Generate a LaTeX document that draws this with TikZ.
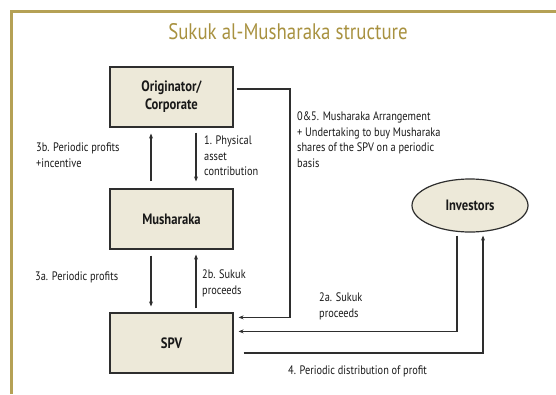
\documentclass[tikz,border=0pt]{standalone}
\usepackage{fontspec}
\setmainfont[FakeStretch=0.84]{PT Sans}
\usepackage{xcolor}
\usetikzlibrary{arrows.meta,shapes.geometric}
\definecolor{gold}{HTML}{B5A155}
\definecolor{titlegold}{HTML}{A8913F}
\definecolor{boxfill}{HTML}{EDE9D9}
\definecolor{ink}{HTML}{2E2E2E}

\begin{document}
\begin{tikzpicture}[x=1pt, y=-1pt,
  box/.style={draw=ink, line width=1.2pt, fill=boxfill, minimum width=123pt, minimum height=60pt, align=center, font=\fontsize{15}{18}\selectfont\bfseries, text=black!90},
  ellbox/.style={ellipse, draw=ink, line width=1.2pt, fill=boxfill, minimum width=116pt, minimum height=53pt, inner sep=0pt, font=\fontsize{15}{18}\selectfont\bfseries, text=black!90},
  lbl/.style={font=\fontsize{12.3}{15.5}\selectfont, align=left, inner sep=0pt, anchor=north west, text=black!90},
  arr/.style={-{Stealth[length=5pt, width=4pt]}, line width=1.1pt, draw=ink},
  ln/.style={line width=1.1pt, draw=ink}]
\useasboundingbox (0,0) rectangle (556,394);
% frame and title
\draw[gold, line width=3pt] (11.5,394) -- (11.5,11.5) -- (556,11.5);
\node[font=\fontsize{22.5}{26}\selectfont, text=titlegold] (title) at (288,32) {Sukuk al-Musharaka structure};
% parties
\node[box] (orig) at (171.5,97) {Originator/\\Corporate};
\node[box] (mush) at (171.5,219) {Musharaka};
\node[box] (spv) at (171.5,343) {SPV};
\node[ellbox] (inv) at (470,205.5) {Investors};
% originator <-> musharaka
\draw[arr] ([shift={(-20.5,-7)}]mush.north) -- ([shift={(-20.5,6)}]orig.south);
\draw[arr] ([shift={(24.5,5)}]orig.south) -- ([shift={(24.5,-7)}]mush.north);
\node[lbl] (l3b) at (36,143) {3b. Periodic profits\\+incentive};
\node[lbl] (l1) at (204,136) {1. Physical\\asset\\contribution};
% musharaka <-> spv
\draw[arr] ([shift={(-20.5,6)}]mush.south) -- ([shift={(-20.5,-6)}]spv.north);
\draw[arr] ([shift={(24.5,-4)}]spv.north) -- ([shift={(24.5,5)}]mush.south);
\node[lbl] (l3a) at (35,272) {3a. Periodic profits};
\node[lbl] (l2b) at (202,270) {2b. Sukuk\\proceeds};
% originator -> spv
\coordinate (c05) at (290,89);
\draw[arr] ([shift={(3,-8)}]orig.east) -- (c05) |- ([shift={(5,5)}]spv.north east);
\node[lbl] (l05) at (297,112) {0\&5. Musharaka Arrangement\\+ Undertaking to buy Musharaka\\shares of the SPV on a periodic\\basis};
% investors <-> spv
\draw[arr] ([shift={(-13,3)}]inv.south) |- ([shift={(5,19)}]spv.north east);
\node[lbl] (l2a) at (319,293) {2a. Sukuk\\proceeds};
\draw[arr] ([shift={(10,10)}]spv.east) -| ([shift={(13,3)}]inv.south);
\node[lbl, anchor=center] (l4) at (357.5,371) {4. Periodic distribution of profit};
\end{tikzpicture}
\end{document}
